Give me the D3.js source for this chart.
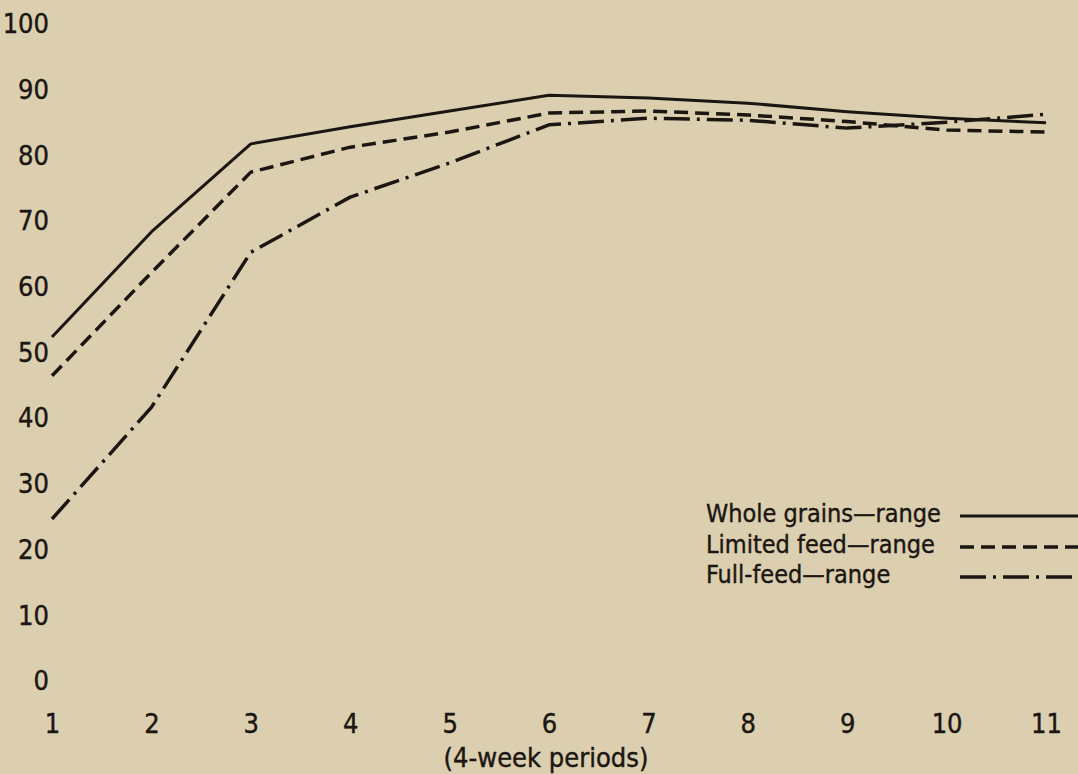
<!DOCTYPE html>
<html>
<head>
<meta charset="utf-8">
<script src="https://cdn.jsdelivr.net/npm/d3@7"></script>
<style>
  html, body { margin: 0; padding: 0; background: #dccfb0; }
  svg { display: block; }
  text { font-family: "Liberation Sans Narrow", "DejaVu Sans Condensed", sans-serif; fill: #1b1612; stroke: #1b1612; stroke-width: 0.4; }
</style>
</head>
<body>
<div id="chart"></div>
<script>
// 4-week periods
const periods = [1, 2, 3, 4, 5, 6, 7, 8, 9, 10, 11];
const yTicks = [0, 10, 20, 30, 40, 50, 60, 70, 80, 90, 100];

// values
const wholeGrains = [52.2, 68.2, 81.6, 84.2, 86.6, 89.0, 88.6, 87.8, 86.5, 85.5, 84.8];
const limitedFeed = [46.3, 62.0, 77.3, 81.1, 83.4, 86.3, 86.6, 86.0, 85.0, 83.7, 83.4];
const fullFeed    = [24.5, 41.5, 65.1, 73.5, 78.7, 84.5, 85.5, 85.2, 84.0, 84.9, 86.1];

const seriesNames = ["Whole grains\u2014range", "Limited feed\u2014range", "Full-feed\u2014range"];
const xLabel = "(4-week periods)";

const width = 1078, height = 774;

const svg = d3.select("#chart").append("svg")
    .attr("width", width).attr("height", height);

svg.append("rect").attr("width", width).attr("height", height).attr("fill", "#dccfb0");

const x = d3.scaleLinear().domain([1, 11]).range([52, 1046]);
const y = d3.scaleLinear().domain([0, 100]).range([680, 23]);

// y axis labels, no line
const yAxis = svg.append("g")
    .attr("transform", "translate(49,0)")
    .call(d3.axisLeft(y).tickValues(yTicks).tickSize(0).tickPadding(0));
yAxis.select(".domain").remove();
yAxis.selectAll("text").attr("font-size", 27).attr("dy", "0.36em").attr("font-family", null).attr("fill", null);

// x axis labels, no line
const xAxis = svg.append("g")
    .attr("transform", "translate(0,723)")
    .call(d3.axisBottom(x).tickValues(periods).tickSize(0).tickPadding(0));
xAxis.select(".domain").remove();
xAxis.selectAll("text").attr("font-size", 27).attr("dy", "0.36em").attr("y", 0).attr("font-family", null).attr("fill", null);

svg.append("text")
    .attr("x", 546).attr("y", 757)
    .attr("text-anchor", "middle").attr("dy", "0.36em")
    .attr("font-size", 27)
    .text(xLabel);

const styles = [
    {data: wholeGrains, dash: null, w: 3},
    {data: limitedFeed, dash: "14,7", w: 3.5},
    {data: fullFeed, dash: "26,7,3,7", w: 3.5}
];

const line = d3.line()
    .x((d, i) => x(periods[i]))
    .y(d => y(d));

svg.selectAll(".series").data(styles).join("path")
    .attr("class", "series")
    .attr("d", s => line(s.data))
    .attr("fill", "none")
    .attr("stroke", "#1b1612")
    .attr("stroke-width", s => s.w)
    .attr("stroke-dasharray", s => s.dash)
    .attr("stroke-linejoin", "round");

// legend
const legendRows = [513, 544, 574];
const legend = svg.append("g");
styles.forEach((s, i) => {
    legend.append("text")
        .attr("x", 706).attr("y", legendRows[i])
        .attr("dy", "0.36em")
        .attr("font-size", 25)
        .text(seriesNames[i]);
    legend.append("line")
        .attr("x1", 960).attr("x2", 1078)
        .attr("y1", legendRows[i] + 3).attr("y2", legendRows[i] + 3)
        .attr("stroke", "#1b1612")
        .attr("stroke-width", s.w)
        .attr("stroke-dasharray", s.dash);
});
</script>
</body>
</html>
